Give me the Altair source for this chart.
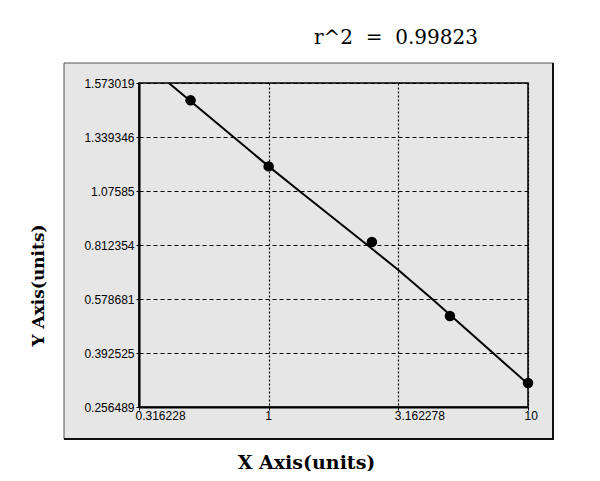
import altair as alt
import pandas as pd

# Standard points
x_std = [0.5, 1, 2.5, 5, 10]
y_std = [1.498, 1.196, 0.827, 0.520, 0.317]

# Fitted curve, points
x_fit = [0.412, 1.0, 1.328, 2.40, 3.162, 4.27, 7.33, 10]
y_fit = [1.573019, 1.196, 1.071, 0.812354, 0.704, 0.578681, 0.392525, 0.3144]

x_ticks = [0.316228, 1, 3.162278, 10]
y_ticks = [0.256489, 0.392525, 0.578681, 0.812354, 1.07585, 1.339346, 1.573019]

r2_label = "r^2 \u00a0= \u00a00.99823"
x_title = "X Axis(units)"
y_title = "Y Axis(units)"

W, H = 389, 324
y_range = [H - i * H / 6 for i in range(len(y_ticks))]

std_df = pd.DataFrame({"x": x_std, "y": y_std})
fit_df = pd.DataFrame({"x": x_fit, "y": y_fit})

PANEL = "#e6e6e6"

xs = alt.Scale(type="log", domain=[x_ticks[0], x_ticks[-1]], nice=False)
ys = alt.Scale(type="linear", domain=y_ticks, range=y_range, nice=False, zero=False)

x_axis = alt.Axis(
    values=x_ticks,
    labelExpr="format(datum.value, '.6~f')",
    grid=True, gridColor="#000", gridDash=[2, 2], gridWidth=1.2,
    domainColor="black", domainWidth=2,
    ticks=True, tickColor="black", tickSize=3,
    labelFont="Liberation Sans", labelFontSize=12, labelColor="black",
    labelAlign="left", labelOffset=-4, labelPadding=0,
    labelFlush=False, labelOverlap=False, labelBound=False,
    title=x_title, titleFont="DejaVu Serif", titleFontWeight="bold",
    titleFontSize=19, titleColor="black", titleX=167, titleY=55,
    titleBaseline="middle", titleAlign="center",
    zindex=1,
)
y_axis = alt.Axis(
    values=y_ticks,
    labelExpr="format(datum.value, '.6~f')",
    grid=True, gridColor="#000", gridDash=[4, 3], gridWidth=1.2,
    domainColor="black", domainWidth=2,
    ticks=True, tickColor="black", tickSize=3,
    labelFont="Liberation Sans", labelFontSize=12, labelColor="black",
    labelPadding=2, labelFlush=False, labelOverlap=False, labelBound=False,
    title=y_title, titleFont="DejaVu Serif", titleFontWeight="bold",
    titleFontSize=17, titleColor="black", titleAngle=-90,
    titleX=-101, titleY=202, titleBaseline="middle", titleAlign="center",
    zindex=1,
)

one = alt.Data(values=[{}])

panel = alt.Chart(one).mark_rect(fill=PANEL, stroke="#555", strokeWidth=1).encode(
    x=alt.value(-75), x2=alt.value(414), y=alt.value(-20), y2=alt.value(356)
)
panel_bottom = alt.Chart(one).mark_rule(color="#111", strokeWidth=2).encode(
    x=alt.value(-75), x2=alt.value(415), y=alt.value(356)
)
panel_right = alt.Chart(one).mark_rule(color="#111", strokeWidth=2).encode(
    x=alt.value(414), y=alt.value(-20), y2=alt.value(357)
)

line = alt.Chart(fit_df).mark_line(color="black", strokeWidth=2).encode(
    x=alt.X("x:Q", scale=xs, axis=x_axis),
    y=alt.Y("y:Q", scale=ys, axis=y_axis),
    order="x:Q",
)
points = alt.Chart(std_df).mark_point(
    shape="circle", filled=True, color="black", size=110, opacity=1
).encode(
    x=alt.X("x:Q", scale=xs, axis=x_axis),
    y=alt.Y("y:Q", scale=ys, axis=y_axis),
)

frame = alt.Chart(one).mark_rect(fillOpacity=0, stroke="black", strokeWidth=1.5).encode(
    x=alt.value(0), x2=alt.value(W), y=alt.value(0), y2=alt.value(H)
)

r2 = alt.Chart(one).mark_text(
    font="DejaVu Serif", fontSize=20, color="black", align="center", baseline="middle"
).encode(x=alt.value(257), y=alt.value(-45), text=alt.value(r2_label))

chart = alt.layer(panel, panel_bottom, panel_right, line, points, frame, r2).properties(
    width=W, height=H,
    autosize=alt.AutoSizeParams(type="none"),
    padding={"left": 131, "top": 75, "right": 50, "bottom": 64},
    background="white",
).configure_view(strokeWidth=0)

chart.save("out.html", embed_options={"renderer": "svg", "actions": False})
